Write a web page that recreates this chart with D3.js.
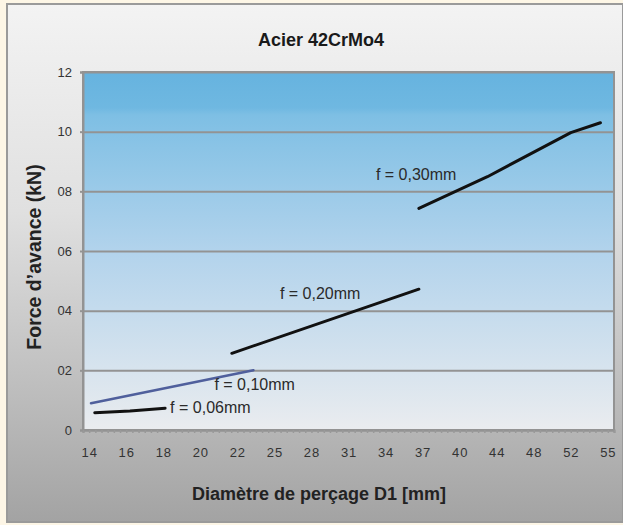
<!DOCTYPE html>
<html>
<head>
<meta charset="utf-8">
<script src="https://cdn.jsdelivr.net/npm/d3@7"></script>
<style>
  html, body { margin: 0; padding: 0; background: #fdf6e6; }
  svg { display: block; }
  text { font-family: "Liberation Sans", Arial, Helvetica, sans-serif; }
</style>
</head>
<body>
<svg id="chart" width="623" height="525"></svg>
<script>
// Diameter categories shown on the x axis (mm)
const xTicks = [14, 16, 18, 20, 22, 25, 28, 31, 34, 37, 40, 44, 48, 52, 55];
// Force ticks (kN) and their printed labels
const yTicks = [0, 2, 4, 6, 8, 10, 12];
const yTickLabels = ["0", "02", "04", "06", "08", "10", "12"];

// Feed-force curves: [diameter mm, force kN]
const f006 = [[14.3, 0.58], [16.2, 0.64], [18.1, 0.73]];
const f010 = [[14.1, 0.90], [23.3, 2.00]];
const f020 = [[21.7, 2.57], [36.7, 4.72]];
const f030 = [[36.7, 7.43], [43.0, 8.49], [52.0, 9.97], [54.4, 10.30]];

const seriesNames = ["f = 0,06mm", "f = 0,10mm", "f = 0,20mm", "f = 0,30mm"];

const svg = d3.select("#chart");
const W = 623, H = 525;
const plot = { left: 83, right: 614, top: 72, bottom: 430 };
const minorCount = 86;           // minor tick intervals along the category axis
const labelEvery = 6;            // one label every 6 minor intervals

const defs = svg.append("defs");
const cardGrad = defs.append("linearGradient").attr("id", "cardGrad")
  .attr("x1", 0).attr("y1", 0).attr("x2", 0).attr("y2", 1);
[[0, "#f3f3f3"], [0.4, "#e0e0e0"], [0.75, "#bdbdbd"], [1, "#a3a3a3"]]
  .forEach(([o, c]) => cardGrad.append("stop").attr("offset", o).attr("stop-color", c));
const plotGrad = defs.append("linearGradient").attr("id", "plotGrad")
  .attr("x1", 0).attr("y1", 0).attr("x2", 0).attr("y2", 1);
[[0, "#66b3df"], [0.1, "#6fb8e1"], [0.12, "#7ebfe4"], [0.5, "#b2d3ec"], [1, "#eaecef"]]
  .forEach(([o, c]) => plotGrad.append("stop").attr("offset", o).attr("stop-color", c));

// Card
svg.append("rect").attr("x", 7).attr("y", 4).attr("width", W - 7).attr("height", 518)
  .attr("fill", "url(#cardGrad)").attr("stroke", "#9a9a9a").attr("stroke-width", 2);

// Scales
const idx = d3.scaleLinear().domain([0, minorCount]).range([plot.left, plot.right]);
const x = d3.scaleLinear()
  .domain(xTicks)
  .range(xTicks.map((d, i) => idx(1 + labelEvery * i)));
const y = d3.scaleLinear().domain([0, 12]).range([plot.bottom, plot.top]);

// Plot background
svg.append("rect")
  .attr("x", plot.left).attr("y", plot.top)
  .attr("width", plot.right - plot.left).attr("height", plot.bottom - plot.top)
  .attr("fill", "url(#plotGrad)");

// Horizontal gridlines
svg.append("g")
  .attr("transform", `translate(${plot.left},0)`)
  .call(d3.axisLeft(y).tickValues(yTicks).tickSize(-(plot.right - plot.left)).tickFormat(""))
  .call(g => g.select(".domain").remove())
  .call(g => g.selectAll("line").attr("stroke", "#939393").attr("stroke-width", 2));

// Plot border
svg.append("rect")
  .attr("x", plot.left).attr("y", plot.top)
  .attr("width", plot.right - plot.left).attr("height", plot.bottom - plot.top)
  .attr("fill", "none").attr("stroke", "#939393").attr("stroke-width", 2);

// Y axis
svg.append("g")
  .attr("transform", `translate(${plot.left},0)`)
  .call(d3.axisLeft(y).tickValues(yTicks).tickSize(3).tickPadding(8)
    .tickFormat((d, i) => yTickLabels[i]))
  .call(g => g.select(".domain").attr("stroke", "#939393").attr("stroke-width", 2))
  .call(g => g.selectAll("line").attr("stroke", "#939393").attr("stroke-width", 2))
  .call(g => g.selectAll("text").attr("font-size", 13).attr("fill", "#333")
    .style("font-family", '"Liberation Sans", Arial, sans-serif'));

// X axis minor ticks
svg.append("g")
  .attr("transform", `translate(0,${plot.bottom})`)
  .call(d3.axisBottom(idx).tickValues(d3.range(minorCount + 1)).tickSize(3).tickFormat(""))
  .call(g => g.select(".domain").attr("stroke", "#939393").attr("stroke-width", 2))
  .call(g => g.selectAll("line").attr("stroke", "#999").attr("stroke-width", 1.5));

// X axis labels
svg.append("g")
  .attr("transform", `translate(0,${plot.bottom})`)
  .call(d3.axisBottom(x).tickValues(xTicks).tickSize(0).tickPadding(18).tickFormat(d3.format("d")))
  .call(g => g.select(".domain").remove())
  .call(g => g.selectAll("text").attr("font-size", 13).attr("fill", "#333")
    .style("letter-spacing", "0.9px")
    .style("font-family", '"Liberation Sans", Arial, sans-serif'));

// Curves
const line = d3.line().x(d => x(d[0])).y(d => y(d[1]));
const curves = [
  { data: f006, color: "#111", width: 3 },
  { data: f010, color: "#4f5f9c", width: 2.6 },
  { data: f020, color: "#111", width: 3 },
  { data: f030, color: "#111", width: 3 }
];
svg.append("g").selectAll("path").data(curves).join("path")
  .attr("d", c => line(c.data))
  .attr("fill", "none")
  .attr("stroke", c => c.color)
  .attr("stroke-width", c => c.width)
  .attr("stroke-linecap", "round")
  .attr("stroke-linejoin", "round");

// Curve labels, placed relative to an end of each curve
const labelPlacement = [
  { pt: d => d[d.length - 1], dx: 5, dy: 5 },
  { pt: d => d[d.length - 1], dx: -39, dy: 20 },
  { pt: d => d[d.length - 1], dx: -139, dy: 10 },
  { pt: d => d[0], dx: -43, dy: -28 }
];
svg.append("g").selectAll("text").data(curves).join("text")
  .attr("x", (c, i) => x(labelPlacement[i].pt(c.data)[0]) + labelPlacement[i].dx)
  .attr("y", (c, i) => y(labelPlacement[i].pt(c.data)[1]) + labelPlacement[i].dy)
  .attr("font-size", 16)
  .attr("fill", "#2a2a2a")
  .text((c, i) => seriesNames[i]);

// Titles
svg.append("text")
  .attr("x", 321).attr("y", 46)
  .attr("text-anchor", "middle")
  .attr("font-size", 18).attr("font-weight", "bold").attr("fill", "#1a1a1a")
  .text("Acier 42CrMo4");

svg.append("text")
  .attr("x", 319).attr("y", 500)
  .attr("text-anchor", "middle")
  .attr("font-size", 18).attr("font-weight", "bold").attr("fill", "#222")
  .text("Diamètre de perçage D1 [mm]");

svg.append("text")
  .attr("transform", `translate(41,${(plot.top + plot.bottom) / 2 + 6}) rotate(-90)`)
  .attr("text-anchor", "middle")
  .attr("font-size", 19.5).attr("font-weight", "bold").attr("fill", "#222")
  .text("Force d’avance (kN)");
</script>
</body>
</html>
